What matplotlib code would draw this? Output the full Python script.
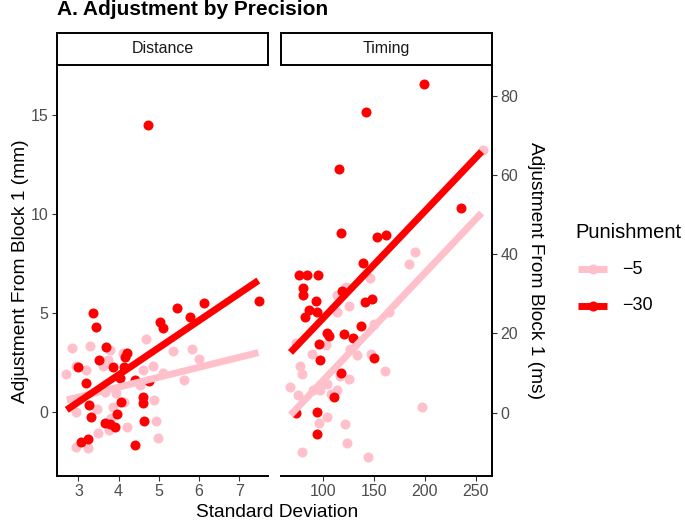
import numpy as np
import matplotlib.pyplot as plt

plt.rcParams['font.family'] = ['Liberation Sans', 'DejaVu Sans']

# Distance panel (mm)
dist_sd_lo = [2.69, 2.84, 2.93, 3.19, 3.29, 2.93, 3.47, 3.50, 2.93, 3.25, 3.61, 3.66, 3.75,
              3.81, 3.94, 3.86, 4.10, 4.20, 4.14, 3.73, 3.79, 4.68, 4.60, 4.85, 4.88, 4.93,
              4.98, 5.11, 5.35, 5.63, 5.82, 6.00, 4.53]
dist_adj_lo = [1.92, 3.25, 2.34, 2.14, 3.35, 0.03, 0.15, -1.06, -1.77, -1.81, 2.34, 1.04, -0.89,
               -0.31, 0.96, 0.28, 2.98, -0.73, 0.52, 2.64, 3.15, 3.69, 2.14, 2.34, 0.62, -0.42,
               -1.31, 1.96, 3.11, 1.63, 3.18, 2.68, 1.38]
dist_sd_hi = [3.36, 3.43, 3.00, 3.19, 3.27, 3.31, 3.07, 3.25, 3.69, 3.51, 3.87, 4.14, 4.20,
              4.17, 4.04, 4.06, 3.97, 3.66, 3.79, 3.90, 4.40, 4.40, 4.62, 4.60, 4.63, 5.03,
              5.11, 5.45, 5.78, 6.13, 7.50, 4.76, 4.74]
dist_adj_hi = [5.03, 4.32, 2.30, 1.46, 0.37, -0.25, -1.50, -1.36, 3.31, 2.64, 2.30, 2.27, 3.01,
               2.78, 1.72, 0.54, -0.09, -0.52, -0.57, -0.73, -1.65, 1.62, 0.79, 0.45, -0.42,
               4.58, 4.24, 5.25, 4.83, 5.51, 5.60, 1.58, 14.5]

# Timing panel (ms)
time_sd_lo = [67.2, 75.4, 77.1, 79.7, 73.1, 88.6, 79.3, 89.6, 96.8, 96.1, 103.9, 103.9, 102.7,
              107.3, 113.2, 116.4, 113.2, 113.2, 125.3, 122.3, 125.6, 121.4, 123.0, 126.3,
              133.5, 143.7, 146.0, 147.2, 149.9, 160.7, 164.7, 184.6, 197.4, 190.3, 256.9]
time_adj_lo = [6.4, 4.5, 11.8, 9.7, 17.7, 14.7, -10.0, 5.6, 5.6, -2.7, -1.2, 7.2, 17.1,
               4.7, 5.7, 9.3, 29.7, 25.5, 26.9, 31.8, 8.4, -2.9, -7.6, 16.0,
               14.6, -11.3, 33.9, 14.8, 22.4, 10.6, 25.5, 37.5, 1.5, 40.5, 66.3]
time_sd_hi = [76.4, 83.7, 95.1, 80.3, 80.3, 92.8, 86.2, 94.1, 82.0, 118.1, 139.4, 141.0, 147.6,
              136.8, 120.4, 129.5, 103.9, 105.9, 95.8, 96.8, 150.2, 117.4, 110.8, 93.5, 93.5,
              73.1, 199.4, 141.7, 115.7, 117.1, 153.1, 161.4, 235.5]
time_adj_hi = [34.8, 34.8, 34.8, 31.4, 29.7, 28.3, 25.8, 25.5, 24.2, 30.6, 37.9, 28.0, 28.6,
               21.9, 19.9, 18.9, 20.2, 19.4, 17.3, 13.3, 13.7, 10.1, 3.9, 0.25, -5.4,
               0.0, 83.0, 75.8, 61.5, 45.3, 44.3, 44.9, 51.6]

# fitted lines (x ends, -5 and -30)
dist_fit_x = [2.71, 7.48]
dist_fit_lo = [0.62, 3.01]
dist_fit_hi = [0.12, 6.65]
time_fit_x = [67.9, 255.9]
time_fit_lo = [-0.6, 50.4]
time_fit_hi = [15.2, 65.9]

pink = '#FFC0CB'
red = '#FF0000'
tick_col = '#4D4D4D'

fig = plt.figure(figsize=(6.85, 5.23), dpi=100)
ax1 = fig.add_axes([0.0828, 0.0899, 0.309, 0.7845])
ax2 = fig.add_axes([0.410, 0.0899, 0.308, 0.7845])

panels = [
    (ax1, dist_sd_lo, dist_adj_lo, dist_sd_hi, dist_adj_hi, dist_fit_x, dist_fit_lo, dist_fit_hi),
    (ax2, time_sd_lo, time_adj_lo, time_sd_hi, time_adj_hi, time_fit_x, time_fit_lo, time_fit_hi),
]
for ax, xl, yl, xh, yh, fx, flo, fhi in panels:
    ax.scatter(xl, yl, s=52, color=pink, linewidths=0, zorder=2)
    ax.scatter(xh, yh, s=52, color=red, linewidths=0, zorder=2)
    ax.plot(fx, flo, color=pink, lw=5, solid_capstyle='butt', zorder=3)
    ax.plot(fx, fhi, color=red, lw=5, solid_capstyle='butt', zorder=3)
    ax.tick_params(labelsize=11.5, labelcolor=tick_col, color='#333333', length=3.5, width=0.8, pad=2.5)
    ax.spines['top'].set_visible(False)

ax1.set_xlim(2.46, 7.73)
ax1.set_ylim(-3.22, 17.5)
ax1.set_xticks([3, 4, 5, 6, 7])
ax1.set_yticks([0, 5, 10, 15])
ax1.spines['right'].set_visible(False)
for s in ['left', 'bottom']:
    ax1.spines[s].set_linewidth(1.4)
ax1.set_ylabel('Adjustment From Block 1 (mm)', fontsize=13.8, labelpad=1)

ax2.set_xlim(58.4, 266)
ax2.set_ylim(-16.0, 87.6)
ax2.set_xticks([100, 150, 200, 250])
ax2.set_yticks([0, 20, 40, 60, 80])
ax2.spines['left'].set_visible(False)
for s in ['right', 'bottom']:
    ax2.spines[s].set_linewidth(1.4)
ax2.yaxis.tick_right()
ax2.yaxis.set_label_position('right')
ax2.set_ylabel('Adjustment From Block 1 (ms)', fontsize=13.8, rotation=-90, labelpad=19)

# facet strips
for ax, name in [(ax1, 'Distance'), (ax2, 'Timing')]:
    pos = ax.get_position()
    fig.add_artist(plt.Rectangle((pos.x0, pos.y1 + 0.002), pos.width, 0.0612, transform=fig.transFigure,
                                 fc='white', ec='black', lw=1.4, zorder=1))
    fig.text(pos.x0 + pos.width / 2, pos.y1 + 0.002 + 0.0306, name, ha='center', va='center',
             fontsize=11.5, color='#1A1A1A', zorder=5)

fig.text(0.405, 0.021, 'Standard Deviation', ha='center', va='center', fontsize=13.8)
fig.text(0.083, 0.982, 'A. Adjustment by Precision', ha='left', va='center', fontsize=15,
         fontweight='bold')

# legend
fig.text(0.84, 0.556, 'Punishment', ha='left', va='center', fontsize=14.5)
lax = fig.add_axes([0.84, 0.38, 0.16, 0.15])
lax.set_xlim(0, 1)
lax.set_ylim(0, 1)
lax.axis('off')
for yy, c, lab in [(0.70, pink, '\u22125'), (0.236, red, '\u221230')]:
    lax.plot([0.024, 0.289], [yy, yy], color=c, lw=5, solid_capstyle='butt')
    lax.scatter([0.157], [yy], s=52, color=c, linewidths=0)
    lax.text(0.425, yy, lab, ha='left', va='center', fontsize=13)

fig.savefig('out.png', dpi=100)
